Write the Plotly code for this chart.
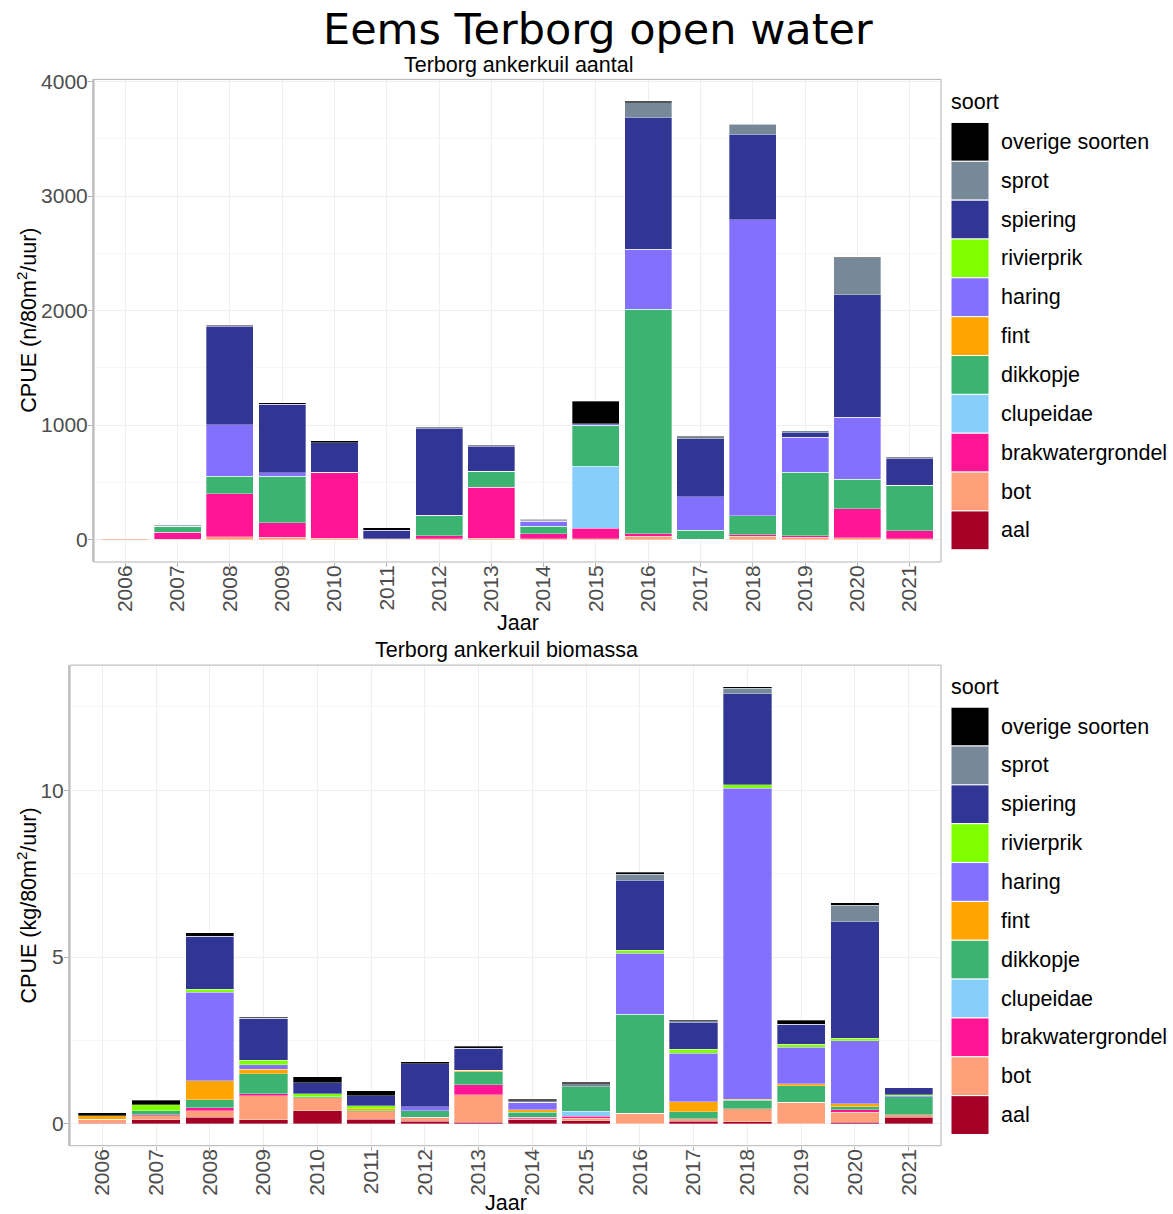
import plotly.graph_objects as go

W, H = 1173, 1214
# observed mapping from figure pixels to the photographed page (slight vertical shift)
SHIFT, SCALE = 9.7, 0.99135

years = [str(y) for y in range(2006, 2022)]

species = ["aal", "bot", "brakwatergrondel", "clupeidae", "dikkopje", "fint",
           "haring", "rivierprik", "spiering", "sprot", "overige soorten"]
colors = {
    "aal": "#A50026", "bot": "#FFA07A", "brakwatergrondel": "#FF1493",
    "clupeidae": "#87CEFA", "dikkopje": "#3CB371", "fint": "#FFA500",
    "haring": "#8470FF", "rivierprik": "#7FFF00", "spiering": "#313695",
    "sprot": "#778899", "overige soorten": "#000000",
}

# ---- aantal (n/80m2/uur) ----
aantal_aal = [0, 0, 0, 0, 0, 0, 0, 0, 0, 0, 0, 0, 0, 0, 0, 0]
aantal_bot = [6, 3, 26, 20, 12, 5, 6, 12, 6, 6, 29, 2, 29, 20, 15, 6]
aantal_brakwatergrondel = [0, 60, 377, 126, 577, 2, 29, 446, 44, 93, 21, 3, 15, 15, 256, 73]
aantal_clupeidae = [0, 0, 0, 0, 0, 0, 0, 0, 0, 543, 0, 0, 0, 0, 0, 0]
aantal_dikkopje = [0, 55, 151, 408, 0, 0, 175, 140, 66, 356, 1963, 79, 166, 554, 257, 394]
aantal_fint = [2, 0, 0, 0, 0, 0, 0, 0, 0, 0, 0, 0, 0, 0, 0, 0]
aantal_haring = [0, 0, 450, 30, 0, 0, 3, 0, 44, 15, 523, 291, 2582, 307, 542, 0]
aantal_rivierprik = [0, 0, 0, 0, 0, 0, 0, 0, 0, 0, 0, 0, 0, 0, 0, 0]
aantal_spiering = [0, 5, 860, 597, 257, 73, 759, 217, 5, 0, 1152, 508, 750, 43, 1068, 239]
aantal_sprot = [0, 5, 3, 3, 2, 3, 5, 3, 15, 0, 125, 17, 85, 12, 324, 5]
aantal_overige = [0, 0, 5, 10, 14, 20, 3, 5, 2, 195, 15, 3, 5, 2, 6, 2]

# ---- biomassa (kg/80m2/uur) ----
bio_aal = [0.02, 0.13, 0.20, 0.12, 0.40, 0.14, 0.08, 0.05, 0.12, 0.10, 0.00, 0.08, 0.07, 0.00, 0.05, 0.20]
bio_bot = [0.10, 0.12, 0.20, 0.73, 0.38, 0.23, 0.10, 0.83, 0.03, 0.07, 0.32, 0.07, 0.38, 0.65, 0.30, 0.07]
bio_brakwatergrondel = [0.02, 0.02, 0.08, 0.05, 0.00, 0.00, 0.02, 0.29, 0.05, 0.06, 0.00, 0.01, 0.01, 0.00, 0.08, 0.00]
bio_clupeidae = [0, 0, 0, 0, 0, 0, 0, 0, 0, 0.15, 0, 0, 0, 0, 0, 0]
bio_dikkopje = [0.00, 0.13, 0.24, 0.60, 0.03, 0.02, 0.19, 0.40, 0.15, 0.74, 2.97, 0.20, 0.25, 0.49, 0.09, 0.54]
bio_fint = [0.10, 0.00, 0.57, 0.14, 0.00, 0.06, 0.00, 0.04, 0.07, 0.00, 0.00, 0.30, 0.03, 0.06, 0.08, 0.00]
bio_haring = [0.00, 0.00, 2.66, 0.13, 0.00, 0.00, 0.13, 0.00, 0.23, 0.00, 1.82, 1.45, 9.32, 1.10, 1.89, 0.03]
bio_rivierprik = [0.00, 0.17, 0.08, 0.13, 0.10, 0.10, 0.00, 0.00, 0.00, 0.00, 0.10, 0.12, 0.11, 0.08, 0.07, 0.04]
bio_spiering = [0.00, 0.00, 1.60, 1.27, 0.33, 0.30, 1.29, 0.66, 0.00, 0.00, 2.10, 0.82, 2.73, 0.60, 3.50, 0.21]
bio_sprot = [0, 0, 0, 0, 0, 0, 0, 0, 0.05, 0.08, 0.17, 0.04, 0.16, 0.00, 0.50, 0.00]
bio_overige = [0.10, 0.14, 0.10, 0.03, 0.18, 0.15, 0.05, 0.05, 0.04, 0.05, 0.07, 0.03, 0.05, 0.12, 0.07, 0.00]

aantal = dict(zip(species, [aantal_aal, aantal_bot, aantal_brakwatergrondel, aantal_clupeidae,
                            aantal_dikkopje, aantal_fint, aantal_haring, aantal_rivierprik,
                            aantal_spiering, aantal_sprot, aantal_overige]))
biomassa = dict(zip(species, [bio_aal, bio_bot, bio_brakwatergrondel, bio_clupeidae,
                              bio_dikkopje, bio_fint, bio_haring, bio_rivierprik,
                              bio_spiering, bio_sprot, bio_overige]))

fig = go.Figure()
for sp in species:
    fig.add_trace(go.Bar(x=years, y=aantal[sp], name=sp, marker_color=colors[sp],
                         marker_line=dict(color="rgba(255,255,255,0.55)", width=0.6),
                         xaxis="x", yaxis="y", showlegend=False))
for sp in species:
    fig.add_trace(go.Bar(x=years, y=biomassa[sp], name=sp, marker_color=colors[sp],
                         marker_line=dict(color="rgba(255,255,255,0.55)", width=0.6),
                         xaxis="x2", yaxis="y2", showlegend=False))

def px(x):
    return x / W

def py(y):
    return 1 - ((y - SHIFT) / SCALE) / H

FONT = "Liberation Sans, Arial, sans-serif"
tickfont = dict(family=FONT, size=21, color="#4D4D4D")
TXT = 21.5
grid = "#EFEFEF"
minorgrid = "#F7F7F7"

common_x = dict(type="category", range=[-0.6, 15.6], tickangle=-90, tickfont=tickfont,
                showgrid=True, gridcolor=grid, gridwidth=1, ticks="outside", ticklen=4,
                tickcolor="#B3B3B3", showline=False, zeroline=False, fixedrange=True,
                ticklabelstandoff=-10)
common_y = dict(tickfont=tickfont, showgrid=True, gridcolor=grid, gridwidth=1,
                ticks="outside", ticklen=4, tickcolor="#B3B3B3", zeroline=False,
                showline=True, linecolor="#C8C8C8", linewidth=2, mirror=False,
                ticklabelstandoff=-4)

fig.update_layout(
    width=W, height=H, autosize=False,
    margin=dict(l=0, r=0, t=0, b=0),
    paper_bgcolor="white", plot_bgcolor="white",
    barmode="stack", bargap=0.1,
    font=dict(family=FONT, color="black"),
    xaxis=dict(domain=[px(94), px(941)], anchor="y", **common_x),
    yaxis=dict(domain=[py(562), py(80)], anchor="x", range=[-195, 4019],
               tickvals=[0, 1000, 2000, 3000, 4000],
               minor=dict(tickvals=[500, 1500, 2500, 3500], showgrid=True,
                          gridcolor=minorgrid, ticks=""), **common_y),
    xaxis2=dict(domain=[px(70), px(941)], anchor="y2", **common_x),
    yaxis2=dict(domain=[py(1145), py(665)], anchor="x2", range=[-0.655, 13.755],
                tickvals=[0, 5, 10],
                minor=dict(tickvals=[2.5, 7.5, 12.5], showgrid=True,
                           gridcolor=minorgrid, ticks=""), **common_y),
)

shapes = []
annotations = []

# panel borders
for (x0, x1, y0, y1) in [(94, 941, 80, 562), (70, 941, 665, 1145)]:
    shapes.append(dict(type="rect", xref="paper", yref="paper",
                       x0=px(x0), x1=px(x1), y0=py(y1), y1=py(y0),
                       line=dict(color="#B3B3B3", width=1), fillcolor="rgba(0,0,0,0)",
                       layer="above"))

def ann(text, x, y, size=TXT, xanchor="center", angle=0, family=FONT):
    annotations.append(dict(text=text, x=px(x), y=py(y), xref="paper", yref="paper",
                            showarrow=False, xanchor=xanchor, yanchor="middle",
                            textangle=angle,
                            font=dict(family=family, size=size, color="black")))

# titles
ann("Eems Terborg open water", 598, 30, size=43, family="DejaVu Sans")
ann("Terborg ankerkuil aantal", 518, 66)
ann("Terborg ankerkuil biomassa", 506, 650)
# axis titles
ann("Jaar", 518, 623)
ann("Jaar", 506, 1202)
ann("CPUE (n/80m<sup>2</sup>/uur)", 27, 321, angle=-90)
ann("CPUE (kg/80m<sup>2</sup>/uur)", 27, 905, angle=-90)

# legends (manual, large swatches like ggplot)
legend_order = list(reversed(species))
for top in [103, 687]:
    ann("soort", 949, top, xanchor="left")
    first = top + 20
    step = 38.8
    for i, sp in enumerate(legend_order):
        y0 = first + i * step
        y1 = y0 + step
        shapes.append(dict(type="rect", xref="paper", yref="paper",
                           x0=px(951), x1=px(989), y0=py(y1), y1=py(y0),
                           fillcolor=colors[sp], line=dict(color="white", width=1)))
        ann(sp, 999, (y0 + y1) / 2, xanchor="left")

fig.update_layout(shapes=shapes, annotations=annotations)

fig.write_html("out.html", config={"displayModeBar": False},
               post_script="document.body.style.margin='0';document.body.style.overflow='hidden';")
